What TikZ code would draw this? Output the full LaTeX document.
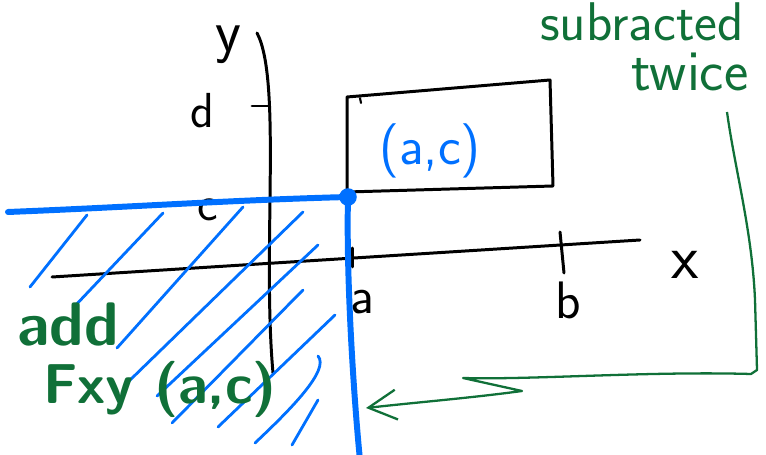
\documentclass[tikz,border=0pt]{standalone}
\usepackage{tikz}
\usetikzlibrary{arrows.meta, positioning}
\definecolor{penblue}{RGB}{0,112,255}
\definecolor{pengreen}{RGB}{16,112,56}
\tikzstyle{ink} = [line width=1.7pt, line cap=round, line join=round, black]
\tikzstyle{hatch} = [line width=1.6pt, line cap=round, penblue]
\tikzstyle{edge} = [line width=3.4pt, line cap=round, penblue]
\tikzstyle{arrow} = [line width=1.3pt, line join=round, pengreen, -{Straight Barb[length=16pt, width=17pt]}]
\tikzstyle{axislabel} = [inner sep=0pt, font=\sffamily\fontsize{30}{36}\selectfont]
\tikzstyle{pointlabel} = [inner sep=0pt, text=penblue, font=\sffamily\fontsize{31}{36}\selectfont]
\tikzstyle{greennote} = [inner sep=0pt, text=pengreen, font=\sffamily\fontsize{31}{36}\selectfont]
\tikzstyle{greenbig} = [inner sep=0pt, text=pengreen, font=\sffamily\bfseries\fontsize{35}{40}\selectfont]

\begin{document}
\begin{tikzpicture}[x=0.02cm, y=-0.02cm, node distance=1cm]
\useasboundingbox (0,0) rectangle (766,455);
\clip (0,0) rectangle (766,455);

% axes
\coordinate (ytop) at (257,33);
\coordinate (ybot) at (273,373);
\coordinate (xleft) at (52,277);
\coordinate (xright) at (640,240);
\draw[ink] (ytop) .. controls (282,80) and (262,250) .. (ybot);
\draw[ink] (xleft) -- (xright);

% ticks
\draw[ink] (252,106) -- (268,106);
\draw[ink] (352,248) -- (352,267);
\draw[ink] (560,232) -- (564,273);

\node (ylabel) [axislabel, font=\sffamily\fontsize{34}{40}\selectfont] at (228,45) {y};
\node (xlabel) [axislabel, font=\sffamily\fontsize{36}{40}\selectfont] at (685,265) {x};
\node (dlabel) [axislabel, font=\sffamily\fontsize{28}{34}\selectfont] at (202,111) {d};
\node (clabel) [axislabel, font=\sffamily\fontsize{28}{34}\selectfont] at (208,210) {c};
\node (alabel) [axislabel] at (362,302) {a};
\node (blabel) [axislabel] at (568,300) {b};

% rectangle
\coordinate (rectNW) at (347,97);
\coordinate (rectNE) at (550,80);
\coordinate (rectSE) at (553,186);
\coordinate (rectSW) at (347,192);
\draw[ink] (rectNW) -- (rectNE) -- (rectSE) -- (rectSW) -- cycle;
\draw[ink, line width=1.2pt] (360,98) -- (361,103);
\node (aclabel) [pointlabel] at (430,151) {(a,c)};

% hatching
\foreach \xa/\ya/\xb/\yb in {30/287/87/215, 73/308/163/213, 117/348/243/207,
  127/383/303/212, 157/396/318/245, 172/423/303/290, 218/427/335/315, 292/445/318/400}
  \draw[hatch] (\xa,\ya) -- (\xb,\yb);
\draw[hatch] (255,443) .. controls (290,410) and (330,370) .. (318,356);

% boundary through (a,c)
\node (corner) [circle, fill=penblue, inner sep=0pt, minimum size=10pt] at (348,197) {};
\coordinate (edgeW) at (8,212);
\coordinate (edgeS) at (360,460);
\draw[edge] (edgeW) .. controls (133,207) and (233,200) .. (corner.center);
\draw[edge] (corner.center) .. controls (346,280) and (354,400) .. (edgeS);

% green notes
\node (add) [greenbig] at (68,324) {add};
\node (Fxy) [greenbig, font=\sffamily\bfseries\fontsize{32}{38}\selectfont, below of=add, yshift=-0.3cm, xshift=1.84cm] {Fxy (a,c)};
\node (subtr) [greennote] at (642,22) {subracted};
\node (twice) [greennote, font=\sffamily\fontsize{33}{38}\selectfont, below of=subtr, xshift=0.96cm] {twice};

\coordinate (noteA) at (727,112);
\coordinate (noteTip) at (366,408);
\draw[arrow] (noteA) .. controls (735,170) and (752,230) .. (755,300) -- (757,370) -- (751,374)
  .. controls (650,371) and (530,380) .. (463,378) -- (522,391)
  .. controls (470,398) and (420,402) .. (noteTip);

\end{tikzpicture}
\end{document}
